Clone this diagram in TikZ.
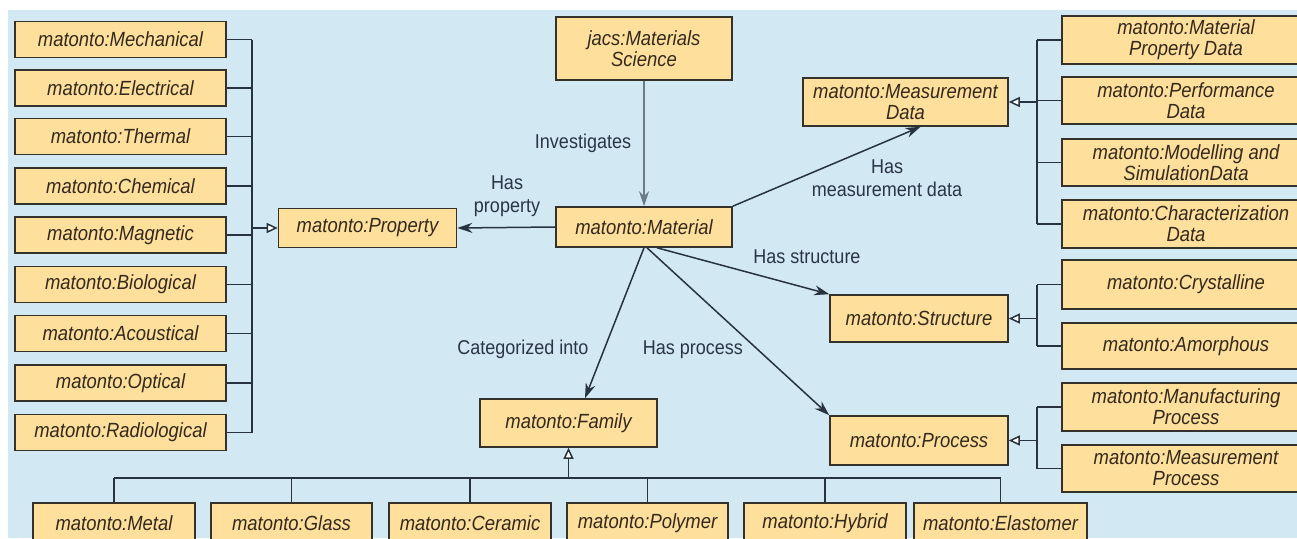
\documentclass[tikz,border=0pt]{standalone}
\usepackage{fontspec}
\setmainfont{Liberation Sans}[FakeStretch=0.9]
\usetikzlibrary{arrows.meta}
\definecolor{bgblue}{HTML}{D2E8F3}
\definecolor{boxfill}{HTML}{FEDF9C}
\definecolor{boxline}{HTML}{35322C}
\definecolor{nodetext}{HTML}{33291C}
\definecolor{labeltext}{HTML}{2A3545}
\definecolor{conn}{HTML}{27343F}
\definecolor{grayconn}{HTML}{6C7B88}
\tikzset{
  box/.style={draw=boxline, fill=boxfill, line width=1.6pt, inner sep=0pt, align=center,
    text=nodetext, font=\fontsize{20.5}{21}\selectfont\itshape},
  lab/.style={text=labeltext, align=center, font=\fontsize{20}{23}\selectfont, inner sep=0pt},
  rel/.style={draw=conn, line width=1.5pt, -{Stealth[length=15pt,width=10pt]}},
  bus/.style={draw=conn, line width=1.6pt},
  gen/.style={draw=conn, line width=1.5pt, -{Triangle[length=11pt,width=10pt,fill=white]}},
}
\begin{document}
\begin{tikzpicture}[x=1pt,y=-1pt]
\useasboundingbox (0,0) rectangle (1297,538);
\clip (0,0) rectangle (1297,538);
\fill[white] (0,0) rectangle (1297,538);
\fill[bgblue] (8,10) rectangle (1297,538);

% left property subclasses
\foreach \n/\t/\y in {mech/Mechanical/39.5, elec/Electrical/88, therm/Thermal/136.5, chem/Chemical/186, magn/Magnetic/235, bio/Biological/284.5, acou/Acoustical/333.5, opt/Optical/383, rad/Radiological/432.5}
  \node[box, minimum width=211pt, minimum height=36pt] (\n) at (120.5,\y) {matonto:\t};
\coordinate (lbusT) at (252,39.5);
\coordinate (lbusB) at (252,432.5);
\draw[bus] (lbusT) -- (lbusB);
\foreach \n in {mech,elec,therm,chem,magn,bio,acou,opt,rad}
  \draw[bus] (\n.east) -- (\n.east -| lbusT);

\node[box, minimum width=178pt, minimum height=39pt] (prop) at (367.5,228) {matonto:Property};
\draw[gen] (prop.west -| lbusT) -- (prop.west);

% centre
\node[box, minimum width=176pt, minimum height=63pt] (sci) at (644,48.5) {jacs:Materials\\Science};
\node[box, minimum width=176pt, minimum height=40pt] (mat) at (644,227) {matonto:Material};
\node[box, minimum width=205pt, minimum height=48pt] (meas) at (905.5,102) {matonto:Measurement\\Data};
\node[box, minimum width=178pt, minimum height=47pt] (struct) at (919,318.5) {matonto:Structure};
\node[box, minimum width=178pt, minimum height=49pt] (proc) at (919,440.5) {matonto:Process};
\node[box, minimum width=177pt, minimum height=48pt] (fam) at (568.5,423) {matonto:Family};

% right data subclasses
\node[box, minimum width=248pt, minimum height=48pt] (mpd) at (1186,40) {matonto:Material\\Property Data};
\node[box, minimum width=248pt, minimum height=47pt] (perf) at (1186,100.5) {matonto:Performance\\Data};
\node[box, minimum width=248pt, minimum height=47pt] (modl) at (1186,162.5) {matonto:Modelling and\\SimulationData};
\node[box, minimum width=248pt, minimum height=48pt] (char) at (1186,224) {matonto:Characterization\\Data};
\coordinate (dbus) at (1037,40);
\draw[bus] (mpd.west -| dbus) -- (char.west -| dbus);
\foreach \n in {mpd,perf,modl,char}
  \draw[bus] (\n.west) -- (\n.west -| dbus);
\draw[gen] (meas.east -| dbus) -- (meas.east);

\node[box, minimum width=248pt, minimum height=49pt] (cryst) at (1186,284.5) {matonto:Crystalline};
\node[box, minimum width=248pt, minimum height=46pt] (amor) at (1186,346) {matonto:Amorphous};
\draw[bus] (cryst.west -| dbus) -- (amor.west -| dbus);
\foreach \n in {cryst,amor}
  \draw[bus] (\n.west) -- (\n.west -| dbus);
\draw[gen] (struct.east -| dbus) -- (struct.east);

\node[box, minimum width=248pt, minimum height=48pt] (manu) at (1186,407) {matonto:Manufacturing\\Process};
\node[box, minimum width=248pt, minimum height=47pt] (mproc) at (1186,468.5) {matonto:Measurement\\Process};
\draw[bus] (manu.west -| dbus) -- (mproc.west -| dbus);
\foreach \n in {manu,mproc}
  \draw[bus] (\n.west) -- (\n.west -| dbus);
\draw[gen] (proc.east -| dbus) -- (proc.east);

% bottom family subclasses
\node[box, minimum width=162pt, minimum height=40pt] (metal) at (114,523) {matonto:Metal};
\node[box, minimum width=161pt, minimum height=40pt] (glass) at (291.5,523) {matonto:Glass};
\node[box, minimum width=162pt, minimum height=40pt] (ceram) at (470,523) {matonto:Ceramic};
\node[box, minimum width=161pt, minimum height=40pt] (poly) at (647.5,523) {matonto:Polymer};
\node[box, minimum width=162pt, minimum height=40pt] (hyb) at (825,523) {matonto:Hybrid};
\node[box, minimum width=173pt, minimum height=40pt] (elas) at (1000.5,523) {matonto:Elastomer};
\coordinate (fbus) at (568.5,478);
\draw[bus] (metal.north |- fbus) -- (elas.north |- fbus);
\foreach \n in {metal,glass,ceram,poly,hyb,elas}
  \draw[bus] (\n.north) -- (\n.north |- fbus);
\draw[gen] (fbus) -- (fam.south);

% relations from Material
\draw[rel, draw=grayconn] (sci.south) -- (mat.north);
\draw[rel] (mat.west) -- (prop.east);
\draw[rel] (mat.north east) -- ([xshift=15pt]meas.south);
\draw[rel] ([xshift=13pt]mat.south) -- (struct.north west);
\draw[rel] (mat.south) -- ([xshift=16.5pt]fam.north);
\draw[rel] ([xshift=3pt]mat.south) -- (proc.north west);

% labels
\node[lab] (linv) at (583,143) {Investigates};
\node[lab] (lprop) at (507,196) {Has\\property};
\node[lab] (lmeas) at (887,178) {Has\\measurement data};
\node[lab] (lstruct) at (807,257) {Has structure};
\node[lab] (lcat) at (523,349) {Categorized into};
\node[lab] (lproc) at (693,350) {Has process};
\end{tikzpicture}
\end{document}
